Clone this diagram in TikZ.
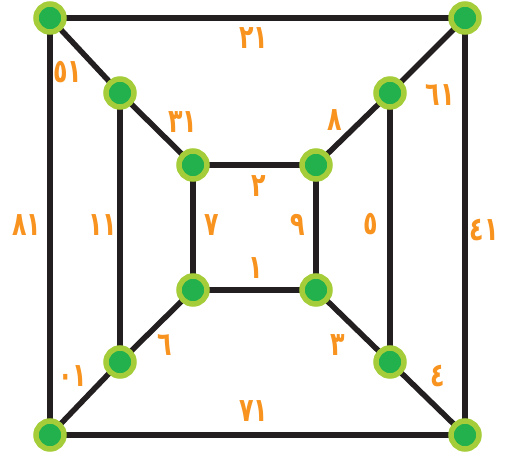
\documentclass[tikz,border=0pt]{standalone}
\usepackage{fontspec}
\newfontfamily\digfont{DejaVu Sans}
\definecolor{edgec}{HTML}{231F20}
\definecolor{ringc}{HTML}{A5CD39}
\definecolor{fillc}{HTML}{22B14C}
\definecolor{labc}{HTML}{F7931E}
\newcommand{\lbltxt}[1]{\scalebox{0.72}[1]{#1}}
\tikzset{
  vtx/.style={circle, draw=ringc, fill=fillc, line width=5.5pt, minimum size=28pt, inner sep=0pt},
  edg/.style={draw=edgec, line width=5.5pt},
  lab/.style={text=labc, font=\digfont\bfseries\fontsize{33}{36}\selectfont, inner sep=0pt}
}
\begin{document}
\begin{tikzpicture}[x=1pt,y=-1pt]
\useasboundingbox (0,0) rectangle (505,457);
% vertices
\coordinate (oTL) at (50,18);
\coordinate (oTR) at (465,18);
\coordinate (oBL) at (50,435);
\coordinate (oBR) at (465,435);
\coordinate (mTL) at (120,93);
\coordinate (mTR) at (390,93);
\coordinate (mBL) at (120,362);
\coordinate (mBR) at (390,362);
\coordinate (iTL) at (193,165);
\coordinate (iTR) at (316,165);
\coordinate (iBL) at (193,290);
\coordinate (iBR) at (316,290);
% edges
\draw[edg] (oTL) -- (oTR) -- (oBR) -- (oBL) -- cycle;
\draw[edg] (iTL) -- (iTR) -- (iBR) -- (iBL) -- cycle;
\draw[edg] (mTL) -- (mBL);
\draw[edg] (mTR) -- (mBR);
\draw[edg] (oTL) -- (mTL) -- (iTL);
\draw[edg] (oTR) -- (mTR) -- (iTR);
\draw[edg] (oBL) -- (mBL) -- (iBL);
\draw[edg] (oBR) -- (mBR) -- (iBR);
% nodes
\foreach \n in {oTL,oTR,oBL,oBR,mTL,mTR,mBL,mBR,iTL,iTR,iBL,iBR}
  \node[vtx] (v\n) at (\n) {};
% labels
\node[lab] (l1) at (254,38) {\lbltxt{٢١}};
\node[lab] (l2) at (27,225) {\lbltxt{٨١}};
\node[lab] (l3) at (254,411) {\lbltxt{٧١}};
\node[lab] (l4) at (484,230) {\lbltxt{٤١}};
\node[lab] (l5) at (68,72) {\lbltxt{٥١}};
\node[lab] (l6) at (183,122) {\lbltxt{٣١}};
\node[lab] (l7) at (335,120) {\lbltxt{٨}};
\node[lab] (l8) at (440,95) {\lbltxt{٦١}};
\node[lab] (l9) at (103,225) {\lbltxt{١١}};
\node[lab] (l10) at (371,224) {\lbltxt{٥}};
\node[lab] (l11) at (212,225) {\lbltxt{٧}};
\node[lab] (l12) at (298,225) {\lbltxt{٩}};
\node[lab] (l13) at (259,186) {\lbltxt{٢}};
\node[lab] (l14) at (256,268) {\lbltxt{١}};
\node[lab] (l15) at (73,376) {\lbltxt{٠١}};
\node[lab] (l16) at (165,345) {\lbltxt{٦}};
\node[lab] (l17) at (338,345) {\lbltxt{٣}};
\node[lab] (l18) at (438,376) {\lbltxt{٤}};
\end{tikzpicture}
\end{document}
